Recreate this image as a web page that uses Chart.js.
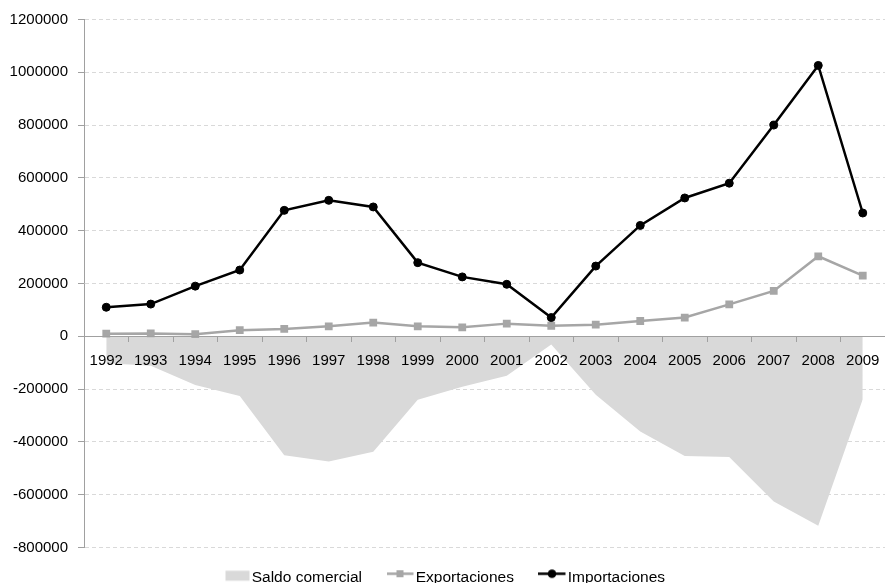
<!DOCTYPE html>
<html>
<head>
<meta charset="utf-8">
<script src="https://cdn.jsdelivr.net/npm/chart.js@4"></script>
<style>
  html, body { margin: 0; padding: 0; background: #fff; }
</style>
</head>
<body>
<canvas id="tradeChart" width="885" height="583"></canvas>
<script>
// data
const years = ["1992", "1993", "1994", "1995", "1996", "1997", "1998", "1999", "2000",
               "2001", "2002", "2003", "2004", "2005", "2006", "2007", "2008", "2009"];
const saldoComercial = [-102000, -112000, -184000, -226000, -451000, -474000, -437000, -240000, -191000,
                        -149000, -31000, -221000, -361000, -453000, -457000, -626000, -718000, -238000];
const exportaciones = [10000, 11000, 8000, 23000, 28000, 38000, 52000, 38000, 34000,
                       48000, 40000, 44000, 58000, 71000, 121000, 172000, 303000, 230000];
const importaciones = [110000, 122000, 190000, 251000, 477000, 515000, 490000, 279000, 225000,
                       197000, 71000, 266000, 420000, 524000, 580000, 800000, 1026000, 467000];
const yTicks = { min: -800000, max: 1200000, step: 200000 };

const areaGray = "#d9d9d9";
const lineGray = "#a6a6a6";
const axisGray = "#a0a0a0";

Chart.defaults.font.family = "'Liberation Sans', Arial, sans-serif";
Chart.defaults.font.size = 15;
Chart.defaults.color = "#000";

// little pictures for the legend (line + marker, or a filled box)
function legendSymbol(kind) {
    const c = document.createElement("canvas");
    c.width = 44;
    c.height = 20;
    const g = c.getContext("2d");
    if (kind === "area") {
        g.fillStyle = areaGray;
        g.fillRect(15.5, 3.5, 24, 10);
        return c;
    }
    const col = kind === "rect" ? lineGray : "#000";
    g.strokeStyle = col;
    g.lineWidth = 2.5;
    g.beginPath();
    g.moveTo(kind === "rect" ? 13 : 12, 6.5);
    g.lineTo(39.5, 6.5);
    g.stroke();
    g.fillStyle = col;
    if (kind === "rect") {
        g.fillRect(22.5, 3, 7, 7);
    } else {
        g.beginPath();
        g.arc(26, 6.5, 4.3, 0, Math.PI * 2);
        g.fill();
    }
    return c;
}

const ctx = document.getElementById("tradeChart").getContext("2d");
new Chart(ctx, {
    type: "line",
    data: {
        labels: years,
        datasets: [
            {
                label: "Importaciones",
                data: importaciones,
                borderColor: "#000",
                backgroundColor: "#000",
                borderWidth: 2.5,
                pointStyle: "circle",
                pointRadius: 4,
                pointBorderWidth: 1,
                tension: 0,
                fill: false
            },
            {
                label: "Exportaciones",
                data: exportaciones,
                borderColor: lineGray,
                backgroundColor: lineGray,
                borderWidth: 2.5,
                pointStyle: "rect",
                pointRadius: 5.5,
                pointBorderWidth: 0,
                tension: 0,
                fill: false
            },
            {
                label: "Saldo comercial",
                data: saldoComercial,
                borderWidth: 0,
                borderColor: areaGray,
                backgroundColor: areaGray,
                pointRadius: 0,
                tension: 0,
                fill: "origin"
            }
        ]
    },
    options: {
        responsive: false,
        animation: false,
        layout: {
            autoPadding: false,
            padding: { top: 19.5, left: 0, right: 0, bottom: -12 }
        },
        plugins: {
            tooltip: { enabled: false },
            legend: {
                position: "bottom",
                labels: {
                    usePointStyle: true,
                    pointStyleWidth: 24,
                    padding: 22,
                    font: { size: 15.5 },
                    generateLabels: function (chart) {
                        const order = [[2, "area"], [1, "rect"], [0, "circle"]];
                        return order.map(([i, kind]) => ({
                            text: chart.data.datasets[i].label,
                            datasetIndex: i,
                            pointStyle: legendSymbol(kind),
                            fillStyle: "transparent",
                            strokeStyle: "transparent",
                            lineWidth: 0,
                            hidden: false
                        }));
                    }
                }
            }
        },
        scales: {
            x: {
                type: "category",
                position: { y: 0 },
                offset: true,
                afterFit: s => {
                    s.height = 0;
                    s.paddingLeft = 0;
                    s.paddingRight = 0;
                },
                grid: {
                    offset: true,
                    drawOnChartArea: false,
                    drawTicks: true,
                    tickLength: 5,
                    color: axisGray,
                    z: 1
                },
                border: { display: true, color: axisGray, width: 1, z: 1 },
                ticks: { autoSkip: false, maxRotation: 0, padding: 11, z: 1 }
            },
            y: {
                min: yTicks.min,
                max: yTicks.max,
                afterFit: s => { s.width = 84; },
                grid: {
                    color: "#d9d9d9",
                    tickColor: axisGray,
                    tickLength: 6,
                    tickBorderDash: []
                },
                border: { display: true, color: axisGray, width: 1, dash: [4, 3] },
                ticks: {
                    stepSize: yTicks.step,
                    padding: 10,
                    callback: v => String(v)
                }
            }
        }
    }
});
</script>
</body>
</html>
